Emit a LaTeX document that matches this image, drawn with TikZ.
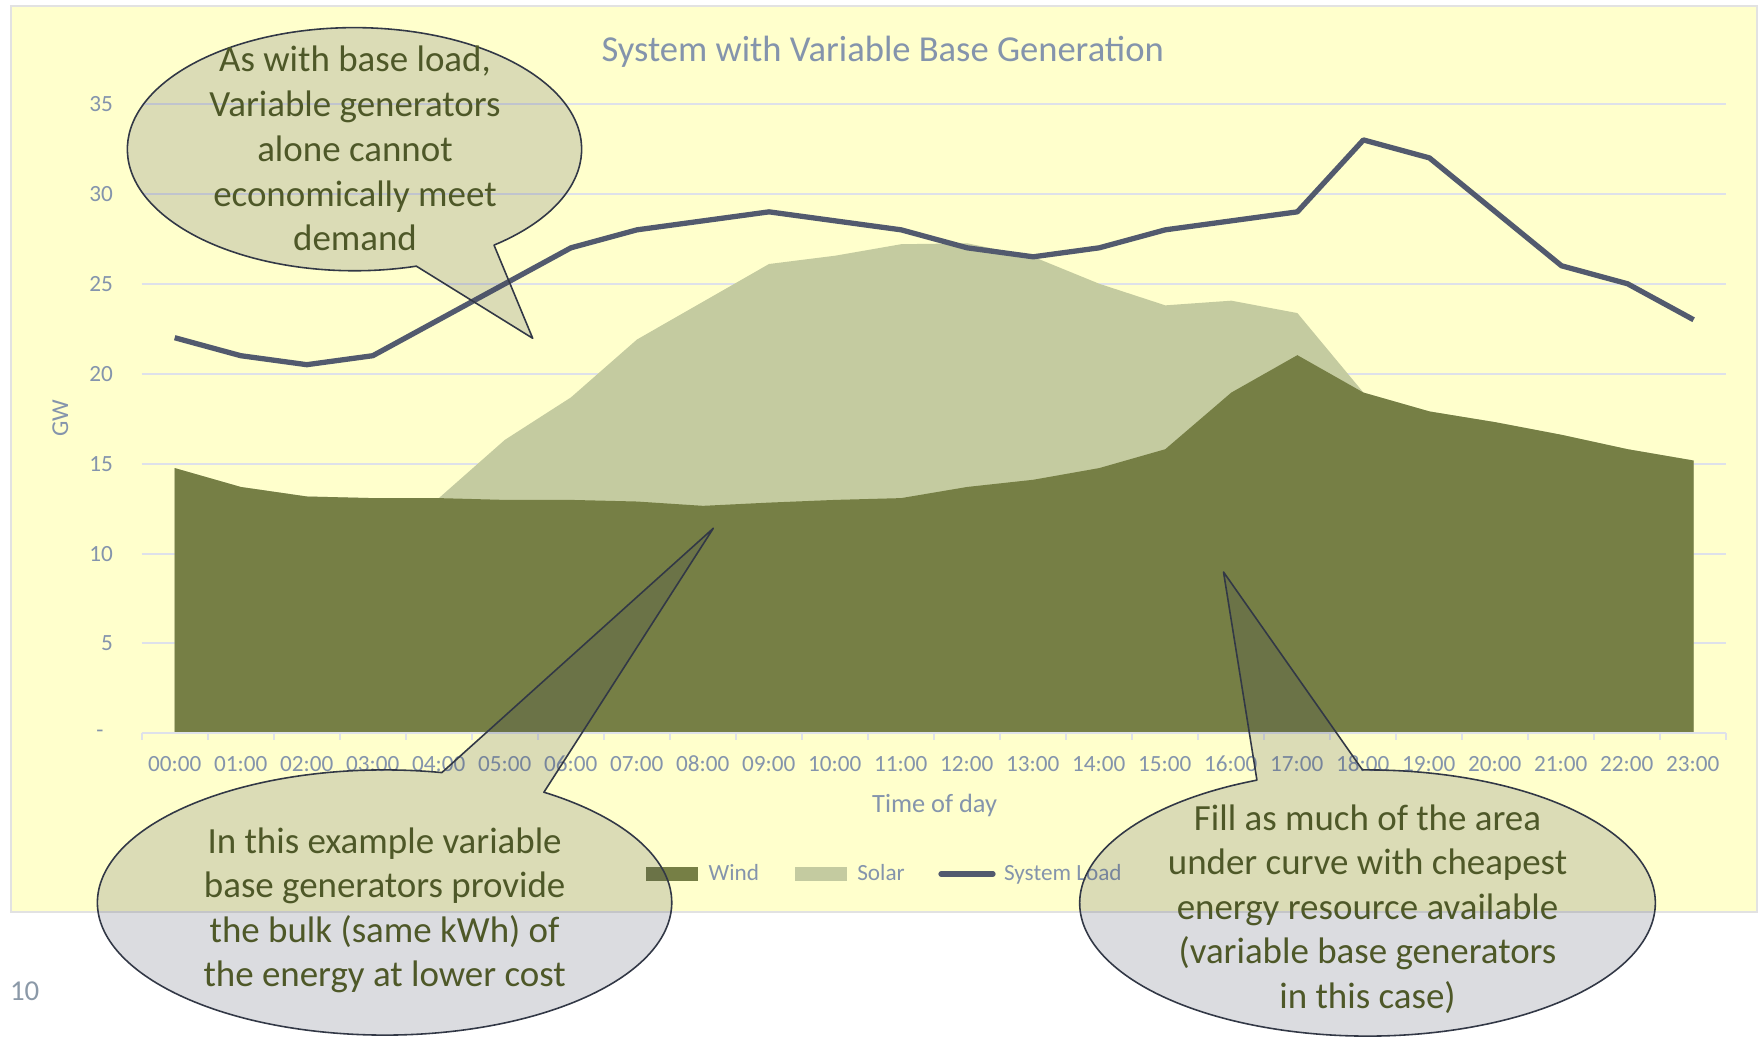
\documentclass[tikz,border=0pt]{standalone}
\usepackage{fontspec}
\setmainfont{Carlito}
\definecolor{chartbg}{RGB}{255,255,204}
\definecolor{chartborder}{RGB}{226,226,226}
\definecolor{gridc}{RGB}{222,225,234}
\definecolor{windc}{RGB}{118,127,69}
\definecolor{solarc}{RGB}{196,203,160}
\definecolor{loadc}{RGB}{82,90,110}
\definecolor{axistext}{RGB}{132,148,172}
\definecolor{pagenum}{RGB}{139,153,168}
\definecolor{calltxt}{RGB}{78,88,40}
\definecolor{callline}{RGB}{50,56,70}
\definecolor{callfill}{RGB}{60,66,84}
\begin{document}
\begin{tikzpicture}[x=0.01cm, y=-0.01cm,
  every node/.style={inner sep=0pt, outer sep=0pt},
  axislbl/.style={font=\fontsize{6.6}{8}\selectfont, text=axistext},
  legtext/.style={font=\fontsize{6.6}{8}\selectfont, text=axistext, anchor=base west},
  calltext/.style={font=\fontsize{10.5}{12.6}\selectfont, text=calltxt, anchor=base},
  callout/.style={draw=callline, line width=0.45pt, fill=callfill, fill opacity=0.18, line join=round},
  gridline/.style={draw=gridc, line width=0.55pt},
  loadline/.style={draw=loadc, line width=1.5pt, line join=round}
]
\fill[white] (0,0) rectangle (1761,1037);
\useasboundingbox (0,0) rectangle (1761,1037);
% chart area
\draw[draw=chartborder, line width=0.57pt, fill=chartbg] (10.7,5.7) rectangle (1756.7,912.3);
% gridlines
\foreach \g in {5,10,...,35}
  \draw[gridline] (141.7,{733.3-17.97*\g}) -- (1725.7,{733.3-17.97*\g});
% data
\begin{scope}[shift={(174.7,733.3)}, x=0.66cm, y=0.1797cm]
  \fill[solarc] (0,0) -- (0,14.75) -- (1,13.7) -- (2,13.17) -- (3,13.08) -- (4,13.08)
    -- (5,16.32) -- (6,18.68) -- (7,21.9) -- (8,24.0) -- (9,26.1) -- (10,26.56)
    -- (11,27.2) -- (12,27.25) -- (13,26.5) -- (14,25.0) -- (15,23.8) -- (16,24.06)
    -- (17,23.37) -- (18,18.95) -- (19,17.9) -- (20,17.3) -- (21,16.6) -- (22,15.8)
    -- (23,15.17) -- (23,0) -- cycle;
  \fill[windc] (0,0) -- (0,14.75) -- (1,13.7) -- (2,13.17) -- (3,13.08) -- (4,13.08)
    -- (5,12.98) -- (6,12.98) -- (7,12.89) -- (8,12.65) -- (9,12.83) -- (10,12.98)
    -- (11,13.08) -- (12,13.7) -- (13,14.1) -- (14,14.75) -- (15,15.8) -- (16,18.95)
    -- (17,21.03) -- (18,18.95) -- (19,17.9) -- (20,17.3) -- (21,16.6) -- (22,15.8)
    -- (23,15.17) -- (23,0) -- cycle;
\end{scope}
% axis
\draw[gridline] (141.7,733.3) -- (1725.7,733.3);
\foreach \k in {0,...,24}
  \draw[gridline] ({141.7+66*\k},733.3) -- ++(0,7);
% load line
\begin{scope}[shift={(174.7,733.3)}, x=0.66cm, y=0.1797cm]
  \draw[loadline] (0,22) -- (1,21) -- (2,20.5) -- (3,21) -- (4,23) -- (5,25) -- (6,27)
    -- (7,28) -- (8,28.5) -- (9,29) -- (10,28.5) -- (11,28) -- (12,27) -- (13,26.5)
    -- (14,27) -- (15,28) -- (16,28.5) -- (17,29) -- (18,33) -- (19,32) -- (20,29)
    -- (21,26) -- (22,25) -- (23,23);
\end{scope}
% axis labels
\foreach \h in {0,...,23}
  \node[axislbl, anchor=base] (xl\h) at ({174.7+66*\h},771.7) {\ifnum\h<10 0\fi\h:00};
\foreach \g in {5,10,...,35}
  \node[axislbl, anchor=east] (yl\g) at (113,{733.3-17.97*\g}) {\g};
\node[axislbl, anchor=east] (yl0) at (103.5,733.3) {-};
\node[font=\fontsize{6.9}{8}\selectfont, text=axistext, rotate=90] (ytitle) at (60.3,418.3) {GW};
\node[font=\fontsize{7.5}{9}\selectfont, text=axistext, anchor=base] (xtitle) at (934.6,812) {Time of day};
\node[font=\fontsize{10.4}{12}\selectfont, text=axistext, anchor=base] (title) at (882.7,61.7) {System with Variable Base Generation};
% legend
\fill[windc] (646,867.3) rectangle (698,880.7);
\node[legtext] (lwind) at (708.7,880.5) {Wind};
\fill[solarc] (795,867.3) rectangle (847,880.7);
\node[legtext] (lsolar) at (857.3,880.5) {Solar};
\draw[loadline, line cap=round] (941,874) -- (993,874);
\node[legtext] (lload) at (1004,880.5) {System Load};
% page number
\node[font=\fontsize{8.2}{10}\selectfont, text=pagenum, anchor=base west] (pnum) at (10,1000.7) {10};
% callout 1
\draw[callout] (354.5,149.2) ++(-52.1:2.27cm and 1.215cm)
  arc[start angle=-52.1, end angle=285.8, x radius=2.27cm, y radius=1.215cm]
  -- (532.7,338.3) -- cycle;
\node[calltext] (c1a) at (355,71.7) {As with base load,};
\node[calltext] (c1b) at (355,116.5) {Variable generators};
\node[calltext] (c1c) at (355,161.3) {alone cannot};
\node[calltext] (c1d) at (355,206.1) {economically meet};
\node[calltext] (c1e) at (355,250.9) {demand};
% callout 2
\draw[callout] (384.6,902.5) ++(78.5:2.87cm and 1.325cm)
  arc[start angle=78.5, end angle=416.3, x radius=2.87cm, y radius=1.325cm]
  -- (713.3,528.3) -- cycle;
\node[calltext] (c2a) at (384.6,853) {In this example variable};
\node[calltext] (c2b) at (384.6,897.5) {base generators provide};
\node[calltext] (c2c) at (384.6,942) {the bulk (same kWh) of};
\node[calltext] (c2d) at (384.6,986) {the energy at lower cost};
% callout 3
\draw[callout] (1367.5,903) ++(112.6:2.876cm and 1.33cm)
  arc[start angle=112.6, end angle=451, x radius=2.876cm, y radius=1.33cm]
  -- (1223.5,572) -- cycle;
\node[calltext] (c3a) at (1367.5,830) {Fill as much of the area};
\node[calltext] (c3b) at (1367.5,874.5) {under curve with cheapest};
\node[calltext] (c3c) at (1367.5,919) {energy resource available};
\node[calltext] (c3d) at (1367.5,963.5) {(variable base generators};
\node[calltext] (c3e) at (1367.5,1008) {in this case)};
\end{tikzpicture}
\end{document}
